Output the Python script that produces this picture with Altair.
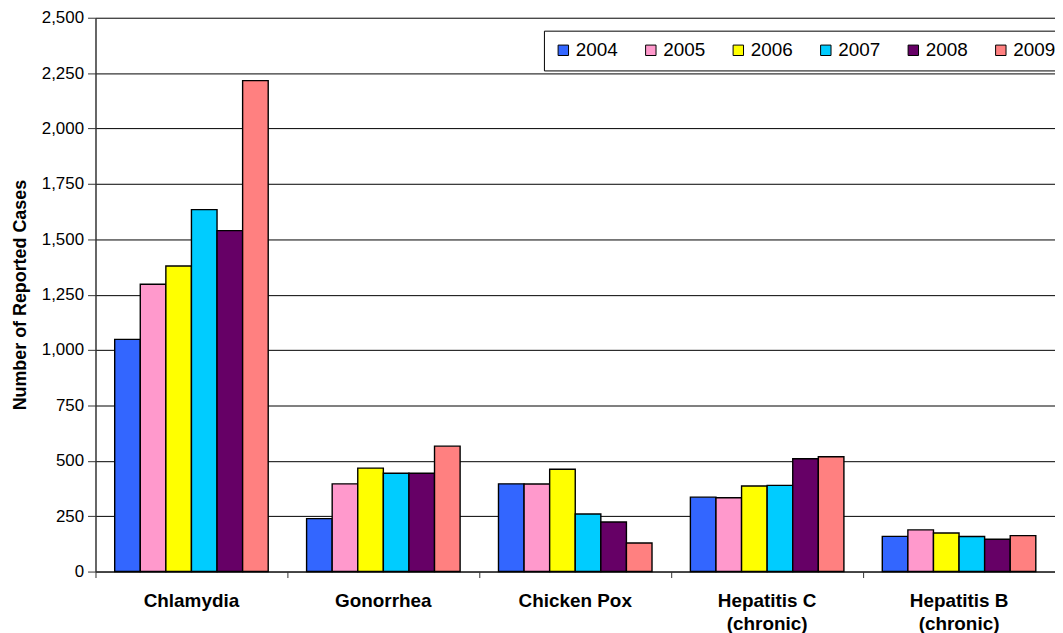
import altair as alt
import pandas as pd

categories = ["Chlamydia", "Gonorrhea", "Chicken Pox", "Hepatitis C (chronic)", "Hepatitis B (chronic)"]
years = ["2004", "2005", "2006", "2007", "2008", "2009"]
colors = ["#3366FF", "#FF99CC", "#FFFF00", "#00CCFF", "#660066", "#FF8080"]

cases_2004 = [1048, 239, 396, 336, 159]
cases_2005 = [1297, 396, 395, 333, 188]
cases_2006 = [1379, 467, 462, 386, 174]
cases_2007 = [1634, 444, 260, 389, 158]
cases_2008 = [1539, 444, 224, 509, 146]
cases_2009 = [2216, 566, 129, 518, 162]

series = [cases_2004, cases_2005, cases_2006, cases_2007, cases_2008, cases_2009]
rows = []
for yr, vals in zip(years, series):
    for cat, v in zip(categories, vals):
        rows.append({"Disease": cat, "Year": yr, "Cases": v})
df = pd.DataFrame(rows)

W = 965
H = 557
FONT = "Liberation Sans"

label_expr = ("indexof(datum.label, ' (') > 0 ? "
              "[slice(datum.label, 0, indexof(datum.label, ' (')), "
              "slice(datum.label, indexof(datum.label, ' (') + 1)] : datum.label")

chart = alt.Chart(df).mark_bar(stroke="black", strokeWidth=1.4).encode(
    x=alt.X("Disease:N", sort=categories,
            scale=alt.Scale(paddingInner=0, paddingOuter=0),
            axis=alt.Axis(title=None, bandPosition=0,
                          labelAngle=0, labelExpr=label_expr,
                          labelFont=FONT, labelFontSize=19, labelFontWeight="bold",
                          labelColor="black", labelLineHeight=23, labelPadding=14,
                          labelBaseline="top",
                          tickSize=6, tickColor="#333333", domainColor="#333333",
                          domainWidth=1.5, grid=False)),
    xOffset=alt.XOffset("Year:N", sort=years,
                        scale=alt.Scale(paddingOuter=0.75, paddingInner=0)),
    y=alt.Y("Cases:Q",
            scale=alt.Scale(domain=[0, 2500], nice=False),
            axis=alt.Axis(title="Number of Reported Cases",
                          values=list(range(0, 2501, 250)), format=",d",
                          labelFont=FONT, labelFontSize=17, labelColor="black",
                          labelPadding=4, tickSize=8, tickColor="#333333",
                          domainColor="#333333", domainWidth=1.5,
                          gridColor="black", gridWidth=1,
                          titleFont=FONT, titleFontSize=18, titleFontWeight="bold",
                          titleColor="black", titlePadding=12)),
    color=alt.Color("Year:N", sort=years,
                    scale=alt.Scale(domain=years, range=colors),
                    legend=alt.Legend(title=None, orient="none", legendX=451, legendY=13,
                                      direction="horizontal", symbolType="square",
                                      symbolSize=110, symbolStrokeColor="black",
                                      symbolStrokeWidth=1, symbolOpacity=1,
                                      labelFont=FONT, labelFontSize=19, labelColor="black",
                                      labelOffset=3, columnPadding=23, padding=10,
                                      strokeColor="black", fillColor="white")),
).properties(
    width=W, height=H,
    autosize=alt.AutoSizeParams(type="none"),
    padding={"left": 88, "top": 8, "right": 0, "bottom": 60},
).configure_view(stroke=None)

chart.save("out.html", embed_options={"renderer": "svg", "actions": False})
